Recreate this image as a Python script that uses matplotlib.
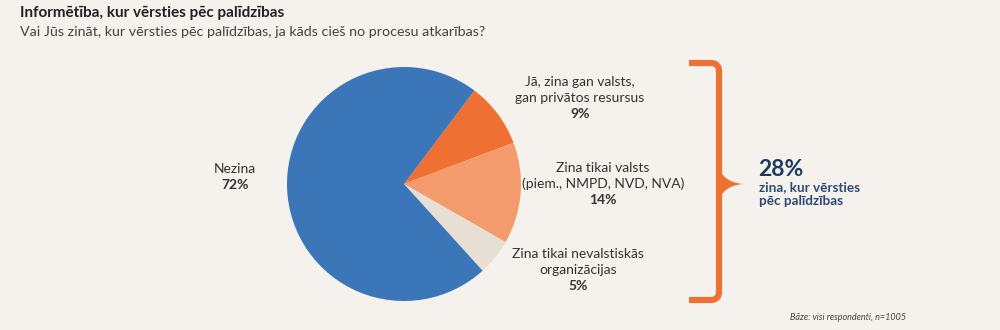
import matplotlib
matplotlib.use("Agg")
import matplotlib.pyplot as plt
from matplotlib.path import Path
from matplotlib.patches import PathPatch

# Survey data
categories = ["Jā, zina gan valsts,\ngan privātos resursus",
              "Zina tikai valsts\n(piem., NMPD, NVD, NVA)",
              "Zina tikai nevalstiskās\norganizācijas",
              "Nezina"]
shares = [9, 14, 5, 72]
colors = ["#EE7033", "#F39B6D", "#E7DFD4", "#3A76B8"]
total_known = 28

title = "Informētība, kur vērsties pēc palīdzības"
subtitle = "Vai Jūs zināt, kur vērsties pēc palīdzības, ja kāds cieš no procesu atkarības?"
note = "Bāze: visi respondenti, n=1005"

BG = "#F5F1EC"
TXT = "#333333"
NAVY = "#1F3A5F"
ORANGE = "#EE7033"
FONT = ["Lato", "DejaVu Sans"]

W, H = 1000, 330
fig = plt.figure(figsize=(W / 100, H / 100), dpi=100, facecolor=BG)
ax = fig.add_axes([0, 0, 1, 1])
ax.set_facecolor(BG)

def Y(py):
    return H - py

cx, cy, r = 404, Y(184), 117
ax.pie(shares, colors=colors, startangle=53, counterclock=False,
       center=(cx, cy), radius=r, wedgeprops=dict(linewidth=0))
ax.set_xlim(0, W)
ax.set_ylim(0, H)
ax.set_aspect("equal")
ax.axis("off")

# Titles
ax.text(20, Y(13), title, fontsize=11, fontweight="bold", color="#222222",
        family=FONT, va="center", ha="left")
ax.text(20, Y(32), subtitle, fontsize=10.3, color="#444444",
        family=FONT, va="center", ha="left")

# Slice labels
label_pos = [(580, 82), (603, 168), (578, 254), (235, 169)]
for cat, val, (lx, ly) in zip(categories, shares, label_pos):
    lines = cat.split("\n")
    for i, ln in enumerate(lines):
        ax.text(lx, Y(ly + i * 16), ln, fontsize=10, color=TXT,
                family=FONT, ha="center", va="center")
    ax.text(lx, Y(ly + len(lines) * 16), f"{val}%", fontsize=10,
            fontweight="bold", color=TXT, family=FONT,
            ha="center", va="center")

# Curly bracket grouping the "know" answers
bx = 719
top, bot, mid = 63, 300, 184
lw = 4.4
verts = [(689, Y(top)), (bx - 8, Y(top)), (bx, Y(top)), (bx, Y(top + 8)),
         (bx, Y(bot - 8)), (bx, Y(bot)), (bx - 8, Y(bot)), (689, Y(bot))]
codes = [Path.MOVETO, Path.LINETO, Path.CURVE3, Path.CURVE3,
         Path.LINETO, Path.CURVE3, Path.CURVE3, Path.LINETO]
ax.add_patch(PathPatch(Path(verts, codes), fill=False, edgecolor=ORANGE,
                       linewidth=lw, capstyle="butt", joinstyle="round"))
spike = [(bx, Y(mid - 18)), (bx + 3, Y(mid - 2)), (bx + 24, Y(mid)),
         (bx + 3, Y(mid + 2)), (bx, Y(mid + 18)), (bx, Y(mid - 18))]
scodes = [Path.MOVETO, Path.CURVE3, Path.CURVE3, Path.CURVE3, Path.CURVE3,
          Path.CLOSEPOLY]
ax.add_patch(PathPatch(Path(spike, scodes), facecolor=ORANGE,
                       edgecolor="none"))

ax.text(758, Y(170), f"{total_known}%", fontsize=16.5, fontweight="bold",
        color=NAVY, family=FONT, ha="left", va="center")
ax.text(759, Y(187), "zina, kur vērsties", fontsize=9.7, fontweight="bold",
        color="#2C4A75", family=FONT, ha="left", va="center")
ax.text(759, Y(201), "pēc palīdzības", fontsize=9.7, fontweight="bold",
        color="#2C4A75", family=FONT, ha="left", va="center")

ax.text(848, Y(317), note, fontsize=6.5, style="italic", color="#444444",
        family=FONT, ha="center", va="center")

fig.savefig("out.png", dpi=100, facecolor=BG)
